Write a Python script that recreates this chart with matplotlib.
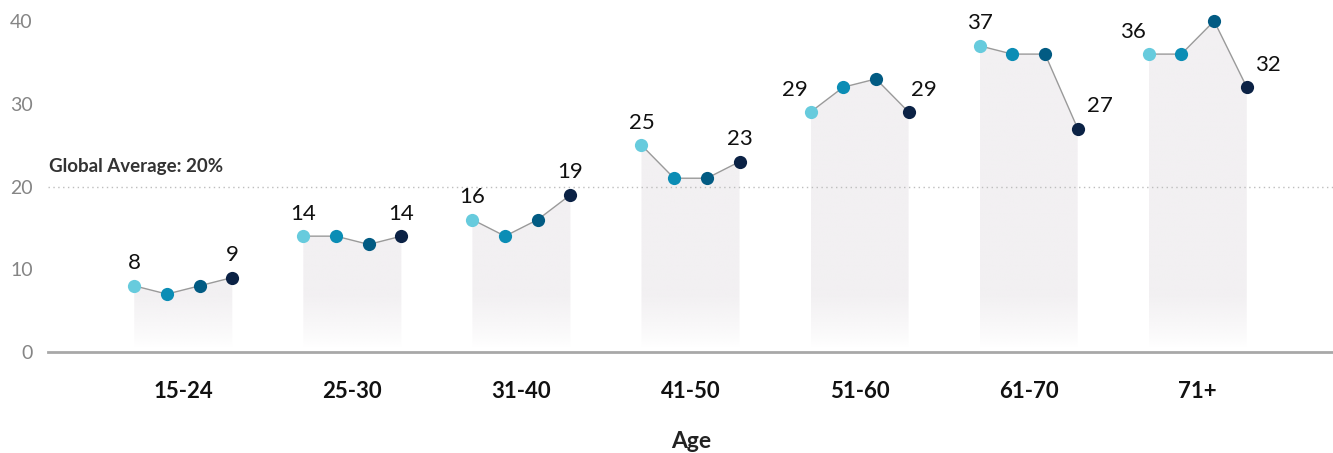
import numpy as np
import matplotlib
matplotlib.use("Agg")
import matplotlib.pyplot as plt
from matplotlib.colors import to_rgb

plt.rcParams['font.family'] = ['Lato', 'DejaVu Sans']

# ---- data ----
categories = ["15-24", "25-30", "31-40", "41-50", "51-60", "61-70", "71+"]
series_1 = [8, 14, 16, 25, 29, 37, 36]
series_2 = [7, 14, 14, 21, 32, 36, 36]
series_3 = [8, 13, 16, 21, 33, 36, 40]
series_4 = [9, 14, 19, 23, 29, 27, 32]
global_average = 20
y_ticks = [0, 10, 20, 30, 40]
x_title = "Age"
avg_label = "Global Average: 20%"

# ---- style ----
point_colors = ["#67cbdd", "#0b8db5", "#025b83", "#0b2245"]
offsets = [-0.29, -0.097, 0.097, 0.29]
# horizontal pixel nudges for first / last value labels
first_label_dx = [0, 0, 0, 0, -11, 0, -11]
last_label_dx = [0, 0, 0, 0, 11, 16, 15]

fig = plt.figure(figsize=(13.33, 4.53), dpi=100)
ax = fig.add_axes([48/1333, 101/453, 1 - 48/1333, 331/453])
ax.set_xlim(-0.8, len(categories) - 0.2)
ax.set_ylim(0, 40)
for s in ax.spines.values():
    s.set_visible(False)
ax.tick_params(axis='both', length=0)
ax.set_xticks([])
ax.set_yticks(y_ticks)
ax.set_yticklabels([str(t) for t in y_ticks], fontsize=14, color="#858585",
                   fontweight='normal')
ax.tick_params(axis='y', pad=11)

# baseline and average line
ax.axhline(0, color="#a8a8a8", lw=2, zorder=3, clip_on=False)
ax.axhline(global_average, color="#bdbdbd", lw=1, ls=(0, (1, 2.5)), zorder=1)
ax.annotate(avg_label, xy=(0, global_average), xycoords=('axes fraction', 'data'),
            xytext=(1, 8), textcoords='offset points', fontsize=13.5,
            fontweight='bold', color="#333333", ha='left', va='bottom')

all_series = [series_1, series_2, series_3, series_4]
fill_rgb = to_rgb("#f2f0f2")
ny = 400
yy = np.linspace(0, 40, ny)
alpha = np.clip((yy - 0.6) / 6.5, 0, 1) ** 0.8
grad = np.zeros((ny, 2, 4))
grad[..., 0] = fill_rgb[0]
grad[..., 1] = fill_rgb[1]
grad[..., 2] = fill_rgb[2]
grad[..., 3] = alpha[:, None]

for i, cat in enumerate(categories):
    xs = [i + o for o in offsets]
    vals = [s[i] for s in all_series]
    poly = ax.fill_between(xs, 0, vals, color='none', lw=0)
    img = ax.imshow(grad, extent=[xs[0], xs[-1], 0, 40], origin='lower',
                    aspect='auto', zorder=0.5, interpolation='bilinear')
    img.set_clip_path(poly.get_paths()[0], transform=ax.transData)
    ax.plot(xs, vals, color="#9a9a9a", lw=1, zorder=2, clip_on=False)
    for x, v, c in zip(xs, vals, point_colors):
        ax.plot([x], [v], 'o', ms=9.5, color=c, mec='none', zorder=4, clip_on=False)
    ax.annotate(str(vals[0]), xy=(xs[0], vals[0]), xytext=(first_label_dx[i], 9),
                textcoords='offset points', ha='center', va='bottom',
                fontsize=16, color="#111111")
    ax.annotate(str(vals[-1]), xy=(xs[-1], vals[-1]), xytext=(last_label_dx[i], 9),
                textcoords='offset points', ha='center', va='bottom',
                fontsize=16, color="#111111")
    ax.annotate(cat, xy=(i, 0), xycoords=('data', 'axes fraction'),
                xytext=(0, -21), textcoords='offset points', ha='center', va='top',
                fontsize=16, fontweight='bold', color="#111111")

fig.text(691/1333, 1 - 441/453, x_title, ha='center', va='center',
         fontsize=16.5, fontweight='bold', color="#222222")

fig.savefig("out.png", dpi=100)
